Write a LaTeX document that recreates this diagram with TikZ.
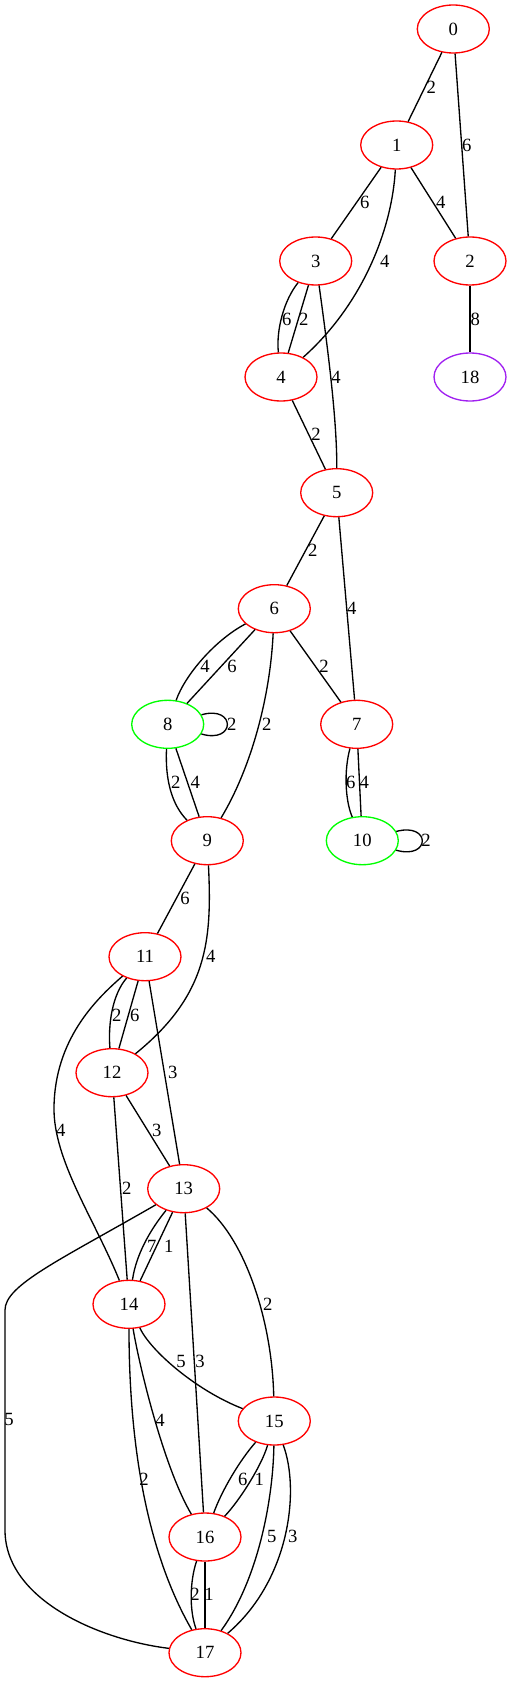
\documentclass[tikz,border=0pt]{standalone}
\usepackage{fontspec}
\setmainfont{Liberation Serif}
\usetikzlibrary{shapes.geometric}
\begin{document}
\begin{tikzpicture}[x=0.75pt,y=-0.75pt,
  gnode/.style={ellipse,draw=red,line width=1pt,minimum width=54pt,minimum height=36pt,inner sep=0pt,font=\fontsize{14}{16}\selectfont},
  lbl/.style={inner sep=0pt,font=\fontsize{14}{16}\selectfont},
  conn/.style={line width=1pt,black}]
\useasboundingbox (0,0) rectangle (512,1683);
% nodes
\node[gnode] (n0) at (453.3,29) {0};
\node[gnode] (n1) at (396.7,145) {1};
\node[gnode] (n2) at (470,261) {2};
\node[gnode] (n3) at (315.7,261) {3};
\node[gnode] (n4) at (281,377) {4};
\node[gnode,draw={rgb,255:red,160;green,32;blue,240}] (n18) at (470,377) {18};
\node[gnode] (n5) at (336.7,492.7) {5};
\node[gnode] (n6) at (274.3,608.7) {6};
\node[gnode] (n7) at (356.7,724.3) {7};
\node[gnode,draw={rgb,255:red,0;green,255;blue,0}] (n8) at (167.7,724.3) {8};
\node[gnode] (n9) at (207.3,840.7) {9};
\node[gnode,draw={rgb,255:red,0;green,255;blue,0}] (n10) at (362.3,840.7) {10};
\node[gnode] (n11) at (145,956.7) {11};
\node[gnode] (n12) at (112,1072.7) {12};
\node[gnode] (n13) at (183.7,1188.7) {13};
\node[gnode] (n14) at (129,1304.3) {14};
\node[gnode] (n15) at (274.3,1421) {15};
\node[gnode] (n16) at (205,1537) {16};
\node[gnode] (n17) at (205,1652.7) {17};
% edges
\draw[conn] (n0) -- (n1);
\draw[conn] (n0) -- (n2);
\draw[conn] (n1) -- (n3);
\draw[conn] (n1) -- (n2);
\draw[conn] (n1) .. controls (392,230) and (362,305) .. (n4);
\draw[conn] (n3) .. controls (284,300) and (276,330) .. (n4);
\draw[conn] (n3) -- (n4);
\draw[conn] (n3) .. controls (328,350) and (337,420) .. (n5);
\draw[conn] (n2) -- (n18);
\draw[conn] (n4) -- (n5);
\draw[conn] (n5) -- (n6);
\draw[conn] (n5) -- (n7);
\draw[conn] (n6) .. controls (215,640) and (185,675) .. (n8);
\draw[conn] (n6) -- (n8);
\draw[conn] (n6) -- (n7);
\draw[conn] (n6) .. controls (270,700) and (250,770) .. (n9);
\draw[conn] (n8) .. controls (236,705) and (236,744) .. (n8);
\draw[conn] (n8) .. controls (165,780) and (172,805) .. (n9);
\draw[conn] (n8) -- (n9);
\draw[conn] (n7) .. controls (344,770) and (345,800) .. (n10);
\draw[conn] (n7) -- (n10);
\draw[conn] (n10) .. controls (431,822) and (431,860) .. (n10);
\draw[conn] (n9) -- (n11);
\draw[conn] (n9) .. controls (212,940) and (208,995) .. (n12);
\draw[conn] (n11) .. controls (112,995) and (108,1025) .. (n12);
\draw[conn] (n11) -- (n12);
\draw[conn] (n11) -- (n13);
\coordinate (c1) at (54,1107);
\draw[conn] (n11) .. controls (95,1000) and (55,1040) .. (c1) .. controls (53,1160) and (95,1220) .. (n14);
\draw[conn] (n12) -- (n13);
\draw[conn] (n12) -- (n14);
\draw[conn] (n13) .. controls (150,1230) and (136,1255) .. (n14);
\draw[conn] (n13) -- (n14);
\coordinate (c2) at (5,1310);
\coordinate (c3) at (5,1530);
\draw[conn] (n13) .. controls (60,1260) and (5,1285) .. (c2) -- (c3) .. controls (5,1600) and (100,1640) .. (n17);
\draw[conn] (n13) -- (n16);
\draw[conn] (n13) .. controls (245,1240) and (272,1320) .. (n15);
\draw[conn] (n14) .. controls (150,1350) and (195,1390) .. (n15);
\draw[conn] (n14) .. controls (140,1370) and (165,1470) .. (n16);
\draw[conn] (n14) .. controls (129,1420) and (140,1540) .. (n17);
\draw[conn] (n15) .. controls (240,1460) and (222,1490) .. (n16);
\draw[conn] (n15) .. controls (262,1465) and (240,1500) .. (n16);
\draw[conn] (n15) .. controls (273,1500) and (258,1580) .. (n17);
\draw[conn] (n15) .. controls (300,1490) and (290,1580) .. (n17);
\draw[conn] (n16) .. controls (190,1580) and (189,1610) .. (n17);
\draw[conn] (n16) -- (n17);
% labels
\node[lbl] (l1) at (431.3,87.3) {2};
\node[lbl] (l2) at (466.7,145) {6};
\node[lbl] (l3) at (364.7,202.3) {6};
\node[lbl] (l4) at (440.7,202.3) {4};
\node[lbl] (l5) at (384.7,261) {4};
\node[lbl] (l6) at (286.7,319) {6};
\node[lbl] (l7) at (303.7,319) {2};
\node[lbl] (l8) at (336,377) {4};
\node[lbl] (l9) at (475.3,319) {8};
\node[lbl] (l10) at (316,434.3) {2};
\node[lbl] (l11) at (312.7,550) {2};
\node[lbl] (l12) at (351.7,608.3) {4};
\node[lbl] (l13) at (205,666.7) {4};
\node[lbl] (l14) at (232,666.7) {6};
\node[lbl] (l15) at (324,666.7) {2};
\node[lbl] (l16) at (266.7,724) {2};
\node[lbl] (l17) at (231.7,724) {2};
\node[lbl] (l18) at (175.7,782.3) {2};
\node[lbl] (l19) at (195.3,782.3) {4};
\node[lbl] (l20) at (350.7,782.3) {6};
\node[lbl] (l21) at (364.3,782.3) {4};
\node[lbl] (l22) at (426,840.7) {2};
\node[lbl] (l23) at (185,898.3) {6};
\node[lbl] (l24) at (210.7,956.7) {4};
\node[lbl] (l25) at (116.7,1015) {2};
\node[lbl] (l26) at (134.7,1015) {6};
\node[lbl] (l27) at (172.7,1072.7) {3};
\node[lbl] (l28) at (60.7,1130) {4};
\node[lbl] (l29) at (156.7,1130) {3};
\node[lbl] (l30) at (126.7,1188.3) {2};
\node[lbl] (l31) at (151.7,1246.7) {7};
\node[lbl] (l32) at (168.7,1246.7) {1};
\node[lbl] (l33) at (267.7,1304.3) {2};
\node[lbl] (l34) at (9,1419.3) {5};
\node[lbl] (l35) at (181,1361.7) {5};
\node[lbl] (l36) at (200,1361.7) {3};
\node[lbl] (l37) at (160,1420) {4};
\node[lbl] (l38) at (144,1479) {2};
\node[lbl] (l39) at (242.7,1479) {6};
\node[lbl] (l40) at (259.3,1479) {1};
\node[lbl] (l41) at (271.7,1536) {5};
\node[lbl] (l42) at (292.7,1536) {3};
\node[lbl] (l43) at (195,1594) {2};
\node[lbl] (l44) at (209,1594) {1};
\end{tikzpicture}
\end{document}
